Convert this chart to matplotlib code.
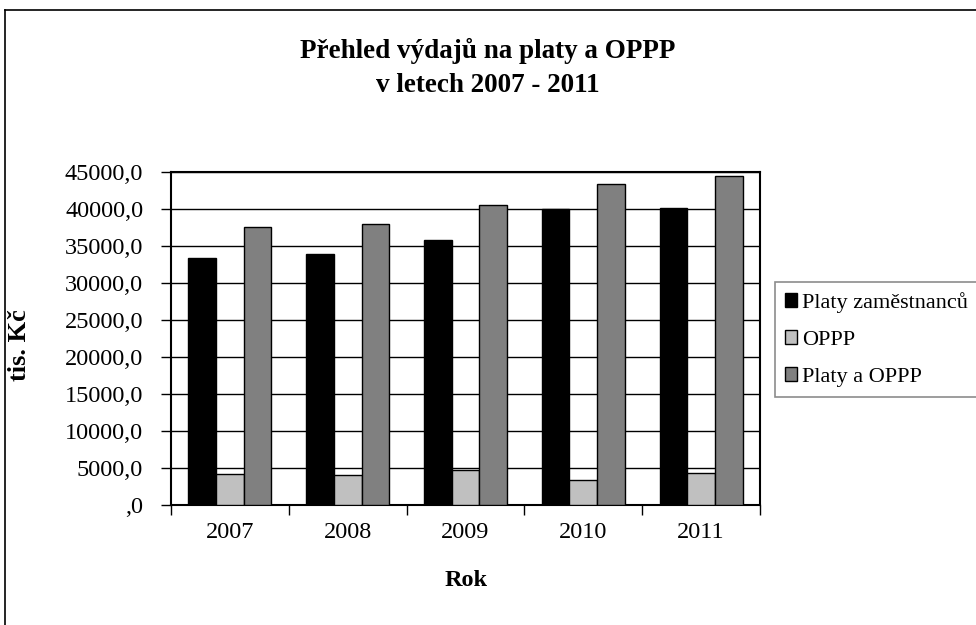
import matplotlib
matplotlib.use("Agg")
import matplotlib.pyplot as plt
import numpy as np
from matplotlib.lines import Line2D
from matplotlib.ticker import FuncFormatter, FixedLocator

plt.rcParams['font.family'] = ['Liberation Serif', 'DejaVu Serif']

years = ['2007', '2008', '2009', '2010', '2011']
platy = [33400, 33900, 35800, 40000, 40200]
oppp = [4200, 4100, 4700, 3400, 4300]
celkem = [37600, 38000, 40500, 43400, 44500]
series_names = ['Platy zaměstnanců', 'OPPP', 'Platy a OPPP']
colors = ['#000000', '#C0C0C0', '#808080']

W, H = 976, 625
fig = plt.figure(figsize=(W / 100, H / 100), dpi=100)
ax = fig.add_axes([171 / W, 1 - 505 / H, (760 - 171) / W, (505 - 172) / H])

x = np.arange(len(years))
bw = 0.235
for i, (vals, c, name) in enumerate(zip([platy, oppp, celkem], colors, series_names)):
    ax.bar(x + (i - 1) * bw, vals, width=bw, color=c, edgecolor='black',
           linewidth=1.0, label=name, zorder=3)

ax.set_xlim(-0.5, len(years) - 0.5)
ax.set_ylim(0, 45000)
ax.set_yticks(np.arange(0, 45001, 5000))

def fmt(v, pos):
    if v == 0:
        return ',0'
    return f'{v:.1f}'.replace('.', ',')

ax.yaxis.set_major_formatter(FuncFormatter(fmt))
ax.grid(axis='y', color='black', linewidth=1.0, zorder=0)

ax.xaxis.set_major_locator(FixedLocator(np.arange(-0.5, len(years), 1.0)))
ax.xaxis.set_major_formatter(FuncFormatter(lambda v, p: ''))
ax.xaxis.set_minor_locator(FixedLocator(x))
ax.set_xticklabels(years, minor=True)
ax.tick_params(axis='x', which='major', direction='out', length=7, width=1, color='black')
ax.tick_params(axis='x', which='minor', length=0, labelsize=17.5, pad=12)
ax.tick_params(axis='y', direction='out', length=7, width=1, labelsize=17.5, pad=13)

for s in ax.spines.values():
    s.set_linewidth(1.5)
    s.set_color('black')

fig.text(20 / W, 1 - 345 / H, 'tis. Kč', fontsize=19, fontweight='bold',
         rotation=90, ha='center', va='center')
fig.text(466 / W, 1 - 580 / H, 'Rok', fontsize=17.5, fontweight='bold', ha='center', va='center')

fig.text(488 / W, 1 - 58 / H, 'Přehled výdajů na platy a OPPP',
         fontsize=19.5, fontweight='bold', ha='center', va='baseline')
fig.text(488 / W, 1 - 92 / H, 'v letech 2007 - 2011',
         fontsize=19.5, fontweight='bold', ha='center', va='baseline')

handles = [plt.Rectangle((0, 0), 1, 1, facecolor=c, edgecolor='black', linewidth=1.0) for c in colors]
leg = fig.legend(handles, series_names, loc='upper left', bbox_to_anchor=(775 / W, 1 - 282 / H),
                 fontsize=16, frameon=True, fancybox=False, edgecolor='#707070',
                 handlelength=0.55, handleheight=0.55, handletextpad=0.2,
                 labelspacing=0.78, borderpad=0.45, borderaxespad=0)
leg.get_frame().set_linewidth(1.2)

# outer chart border (clipped at right/bottom)
fig.add_artist(Line2D([5 / W, 1.0], [1 - 10 / H, 1 - 10 / H], color='black', linewidth=1.2,
                      transform=fig.transFigure))
fig.add_artist(Line2D([5 / W, 5 / W], [0.0, 1 - 10 / H], color='black', linewidth=1.2,
                      transform=fig.transFigure))

fig.savefig('out.png', dpi=100)
